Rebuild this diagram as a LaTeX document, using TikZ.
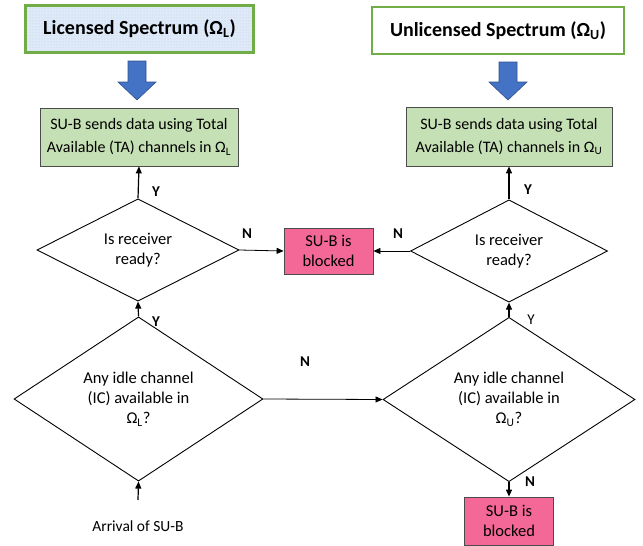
\documentclass[tikz,border=0pt]{standalone}
\usepackage{fontspec}
\setmainfont{Carlito}
\usetikzlibrary{shapes.geometric,arrows.meta,patterns}
\definecolor{titlegreen}{RGB}{112,173,71}
\definecolor{licfill}{RGB}{222,235,247}
\definecolor{sendfill}{RGB}{197,224,180}
\definecolor{blockpink}{RGB}{244,104,152}
\definecolor{arrblue}{RGB}{68,114,196}
\definecolor{arrborder}{RGB}{47,82,143}
\tikzset{
  titlebox/.style={draw=titlegreen, line width=2.2pt, minimum height=47pt,
    font=\fontsize{20}{24}\selectfont\bfseries},
  sendbox/.style={draw=black!70, fill=sendfill, line width=0.8pt, align=center,
    inner sep=0pt, font=\fontsize{16}{23}\selectfont},
  blockbox/.style={draw=black!70, fill=blockpink, line width=0.8pt, align=center,
    inner sep=0pt, minimum width=89pt, minimum height=46pt,
    font=\fontsize{16.5}{20}\selectfont},
  decision/.style={diamond, draw, line width=0.9pt, inner sep=0pt, align=center,
    font=\fontsize{16.5}{20}\selectfont},
  lbl/.style={font=\fontsize{15}{17}\selectfont\bfseries},
  flow/.style={-{Triangle[length=7pt,width=6pt]}, line width=1.2pt},
  thinflow/.style={-{Triangle[length=7pt,width=6pt]}, line width=0.8pt},
  blockarrow/.style={fill=arrblue, draw=arrborder, line width=0.6pt}
}
\newcommand{\OmL}{Ω\textsubscript{L}}
\newcommand{\OmU}{Ω\textsubscript{U}}
\begin{document}
\begin{tikzpicture}[x=1pt, y=-1pt]
  \useasboundingbox (0,0) rectangle (643,546);
  % spectrum titles
  \node[titlebox, minimum width=228pt, preaction={fill=licfill},
    pattern=dots, pattern color=blue!25] (lic) at (139.5,29) {Licensed Spectrum (\OmL)};
  \node[titlebox, minimum width=252pt, fill=white] (unl) at (498,30.5) {Unlicensed Spectrum (\OmU)};
  \draw[blockarrow] (128,61) -- (146,61) -- (146,82) -- (156,82) -- (137,100)
    -- (118,82) -- (128,82) -- cycle;
  \draw[blockarrow] (499,62) -- (517,62) -- (517,82) -- (527,82) -- (508,100)
    -- (489,82) -- (499,82) -- cycle;
  % boxes
  \node[sendbox, minimum width=198pt, minimum height=58pt] (lsend) at (139,137)
    {SU-B sends data using Total\\Available (TA) channels in \OmL};
  \node[sendbox, minimum width=206pt, minimum height=59pt] (usend) at (509,136.5)
    {SU-B sends data using Total\\Available (TA) channels in \OmU};
  \node[blockbox] (blk1) at (328.5,251) {SU-B is\\blocked};
  \node[blockbox, minimum height=48pt] (blk2) at (509,521) {SU-B is\\blocked};
  % decisions
  \node[decision, minimum width=202pt, minimum height=95pt] (lrec) at (138,250)
    {Is receiver\\ready?};
  \node[decision, minimum width=197pt, minimum height=96pt] (urec) at (509,251)
    {Is receiver\\ready?};
  \node[decision, minimum width=249pt, minimum height=128pt] (lidle) at (138.5,399)
    {Any idle channel\\(IC) available in\\\OmL?};
  \node[decision, minimum width=252pt, minimum height=133pt] (uidle) at (509,399.5)
    {Any idle channel\\(IC) available in\\\OmU?};
  \node[font=\fontsize{15.5}{18}\selectfont] (arrival) at (138,526) {Arrival of SU-B};
  \coordinate (start) at (138,500);
  % connectors
  \draw[flow] (start) -- (lidle.south);
  \draw[flow] (lidle.north) -- (lrec.south);
  \draw[flow] (lrec.north) -- (lsend.south);
  \draw[thinflow] (lrec.east) -- (blk1.west);
  \draw[thinflow] (urec.west) -- (blk1.east);
  \draw[flow] (urec.north) -- (usend.south);
  \draw[flow] (uidle.north) -- (urec.south);
  \draw[thinflow] (lidle.east) -- (uidle.west);
  \draw[flow] (uidle.south) -- (blk2.north);
  % labels
  \node[lbl] (y1) at (156,192) {Y};
  \node[lbl] (y2) at (156,322) {Y};
  \node[lbl] (n1) at (247,234) {N};
  \node[lbl] (n2) at (398,234) {N};
  \node[lbl] (y3) at (528,190) {Y};
  \node[font=\fontsize{15}{17}\selectfont] (y4) at (531,320) {Y};
  \node[lbl] (n3) at (305,362) {N};
  \node[lbl] (n4) at (530,482) {N};
\end{tikzpicture}
\end{document}
